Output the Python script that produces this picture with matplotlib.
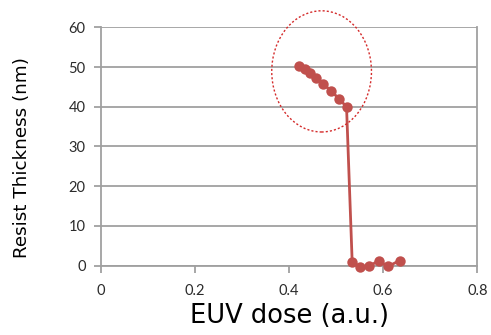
import matplotlib.pyplot as plt
from matplotlib.patches import Ellipse

plt.rcParams['font.family'] = ['Lato', 'DejaVu Sans']

# resist thickness after development vs. exposure dose
dose = [0.421, 0.433, 0.444, 0.458, 0.473, 0.490, 0.506, 0.522,
        0.534, 0.551, 0.570, 0.590, 0.610, 0.635]
thickness = [50.2, 49.4, 48.4, 47.2, 45.7, 43.9, 42.0, 40.0,
             0.9, -0.3, -0.2, 1.3, -0.2, 1.3]

x_ticks = [0, 0.2, 0.4, 0.6, 0.8]
x_tick_labels = ['0', '0.2', '0.4', '0.6', '0.8']
y_ticks = [0, 10, 20, 30, 40, 50, 60]

# highlighted region (center, width, height in data units)
ring_center = (0.469, 48.9)
ring_width = 0.212
ring_height = 30.5

red = '#C0504D'
grid_grey = '#A0A0A0'

fig = plt.figure(figsize=(4.91, 3.35), dpi=100)
ax = fig.add_axes([0.2057, 0.2069, 0.9721 - 0.2057, 0.9185 - 0.2069])

ax.set_xlim(0, 0.8)
ax.set_ylim(0, 60)
ax.set_xticks(x_ticks)
ax.set_xticklabels(x_tick_labels)
ax.set_yticks(y_ticks)

ax.yaxis.grid(True, color=grid_grey, linewidth=1.3)
ax.set_axisbelow(True)

ax.spines['top'].set_visible(False)
for side in ['left', 'right', 'bottom']:
    ax.spines[side].set_color(grid_grey)
    ax.spines[side].set_linewidth(1.3)

ax.tick_params(axis='both', color=grid_grey, width=1.3, length=5,
               labelsize=10.5, labelcolor='#2b2b2b', pad=6)
ax.tick_params(axis='x', pad=8)

ax.plot(dose, thickness, color=red, linewidth=2.0, marker='o',
        markersize=7.5, markeredgewidth=0, clip_on=False, zorder=3)

ring = Ellipse(ring_center, ring_width, ring_height, fill=False,
               edgecolor='#D42A2A', linestyle=(0, (1.5, 1.5)),
               linewidth=1.0, clip_on=False, zorder=4)
ax.add_patch(ring)

# axis titles placed directly on the figure
fig.text(289 / 491, 1 - 323 / 335, 'EUV dose (a.u.)', fontsize=18.5,
         family=['DejaVu Sans'], ha='center', va='baseline', color='black')
fig.text(22 / 491, 1 - 158 / 335, 'Resist Thickness (nm)', fontsize=13.2,
         family=['DejaVu Sans'], rotation=90, ha='center', va='center',
         color='black')

fig.savefig('out.png', dpi=100)
